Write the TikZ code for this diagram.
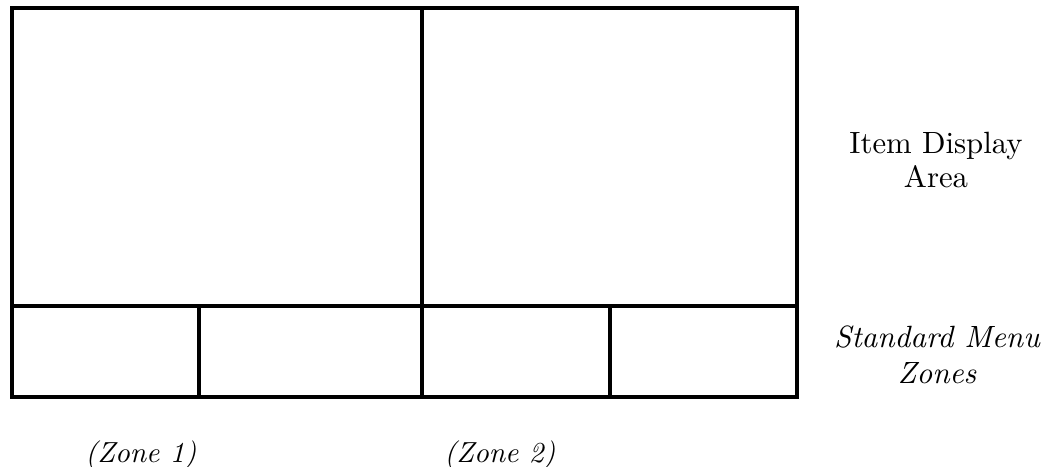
\documentclass[tikz,border=0pt]{standalone}
\usepackage{tikz}
\usetikzlibrary{positioning}
\tikzset{
  panel/.style={draw=black, line width=1.9pt},
  sidelabel/.style={align=center, inner sep=0pt, scale=1.75, transform shape, font=\fontsize{10}{10.9}\selectfont},
  menulabel/.style={align=center, inner sep=0pt, scale=1.75, transform shape, font=\fontsize{10}{11.7}\selectfont\itshape},
  zonelabel/.style={inner sep=0pt, scale=1.65, transform shape, font=\fontsize{10}{12}\selectfont\itshape}
}

\begin{document}
\begin{tikzpicture}[x=0.02cm, y=-0.02cm]
  \useasboundingbox (0,0) rectangle (1053,466);

  % Corners of the screen
  \coordinate (tl) at (12,8);
  \coordinate (br) at (797,397);
  \coordinate (midtop) at (422,8);
  \coordinate (midbot) at (422,397);
  \coordinate (menul) at (12,306);
  \coordinate (menur) at (797,306);

  % Screen outline and display split
  \draw[panel] (tl) rectangle (br);
  \draw[panel] (midtop) -- (midbot);
  \draw[panel] (menul) -- (menur);

  % Menu zone splits
  \draw[panel] (199,306) -- (199,397);
  \draw[panel] (610,306) -- (610,397);

  % Labels
  \node[sidelabel] (display) at (936,160) {Item Display\\Area};
  \node[menulabel] (menus) at (937,355) {Standard Menu\\Zones};
  \node[zonelabel] (zone1) at (141,455) {(Zone 1)};
  \node[zonelabel] (zone2) at (500,455) {(Zone 2)};
\end{tikzpicture}
\end{document}
